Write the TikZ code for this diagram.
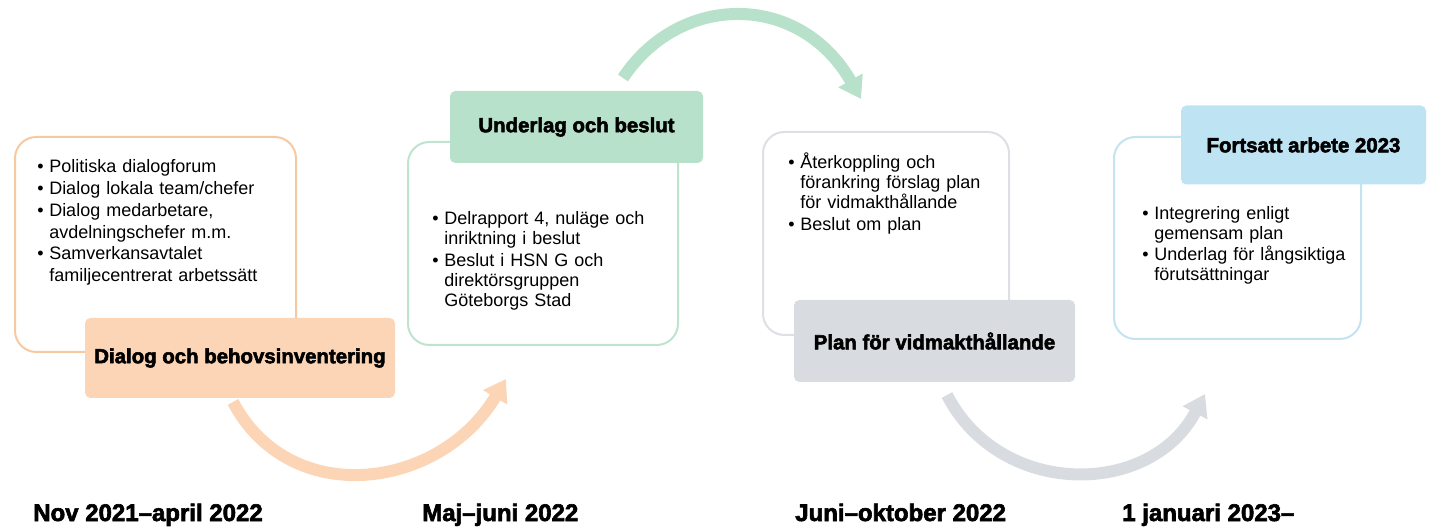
\documentclass[tikz,border=0pt]{standalone}
\usepackage{fontspec}
\setmainfont{Liberation Sans}
\newfontfamily\heavy{Liberation Sans Bold}[FakeBold=2.6]
\usetikzlibrary{arrows.meta}

\definecolor{orgline}{HTML}{F7C9A0}
\definecolor{orgfill}{HTML}{FBD5B5}
\definecolor{grnline}{HTML}{BEE3CE}
\definecolor{grnfill}{HTML}{B7E1CA}
\definecolor{grayline}{HTML}{DCDFE3}
\definecolor{grayfill}{HTML}{D8DCE1}
\definecolor{blueline}{HTML}{C3E3F0}
\definecolor{bluefill}{HTML}{BEE3F2}

\newcommand\bitem[1]{\par\hangindent=9pt\hangafter=1\noindent\makebox[9pt][l]{\textbullet}#1\par}

\begin{document}
\begin{tikzpicture}[x=0.75pt, y=-0.75pt,
  frame/.style={draw, line width=1.5pt, rounded corners=16pt, inner sep=0pt},
  title/.style={rounded corners=4pt, inner sep=0pt,
    font=\fontsize{15.3}{18}\selectfont\heavy},
  items/.style={anchor=north west, inner sep=0pt, text width=#1, align=left,
    font=\fontsize{13.5}{15}\selectfont},
  when/.style={anchor=base west, inner sep=0pt,
    font=\fontsize{18}{20}\selectfont\heavy},
  flow/.style={line width=9pt, -{Triangle[width=20pt,length=16pt]}}]
\useasboundingbox (0,0) rectangle (1436,527);

% arrows between the steps
\coordinate (a1s) at (233,402);
\coordinate (a1e) at (506,379);
\coordinate (a2s) at (623,78);
\coordinate (a2e) at (861,99);
\coordinate (a3s) at (947,395);
\coordinate (a3e) at (1205,394);
\draw[flow, orgfill]  (a1s) .. controls (290,510) and (440,490) .. (a1e);
\draw[flow, grnfill]  (a2s) .. controls (680,-8) and (800,-8) .. (a2e);
\draw[flow, grayfill] (a3s) .. controls (1000,498) and (1150,498) .. (a3e);

% frames
\node[frame, draw=orgline,  minimum width=210.75pt, minimum height=161.25pt] (box1) at (155.5,244.5) {};
\node[frame, draw=grnline,  minimum width=202.5pt,  minimum height=152.25pt] (box2) at (543,243.5) {};
\node[frame, draw=grayline, minimum width=184.5pt,  minimum height=152.25pt] (box3) at (886,233.5) {};
\node[frame, draw=blueline, minimum width=185.25pt, minimum height=151.5pt]  (box4) at (1237.5,238) {};

% titles
\node[title, fill=orgfill,  minimum width=232.5pt,  minimum height=60pt]    (t1) at (240,358) {Dialog och behovsinventering};
\node[title, fill=grnfill,  minimum width=189.75pt, minimum height=54pt]    (t2) at (576.5,127) {Underlag och beslut};
\node[title, fill=grayfill, minimum width=210.75pt, minimum height=61.5pt]  (t3) at (934.5,341) {Plan för vidmakthållande};
\node[title, fill=bluefill, minimum width=183.75pt, minimum height=59.25pt] (t4) at (1303.5,145) {Fortsatt arbete 2023};

% contents
\node[items=200pt, font=\fontsize{13.5}{16.3}\selectfont] (l1) at (37,151) {%
  \bitem{Politiska dialogforum}
  \bitem{Dialog lokala team/chefer}
  \bitem{Dialog medarbetare,\newline avdelningschefer m.m.}
  \bitem{Samverkansavtalet\newline familjecentrerat arbetssätt}};
\node[items=190pt] (l2) at (432,204) {%
  \bitem{Delrapport 4, nuläge och\newline inriktning i beslut}\vspace{1.5pt}
  \bitem{Beslut i HSN G och\newline direktörsgruppen\newline Göteborgs Stad}};
\node[items=175pt] (l3) at (788,148) {%
  \bitem{Återkoppling och\newline förankring förslag plan\newline för vidmakthållande}\vspace{1.5pt}
  \bitem{Beslut om plan}};
\node[items=175pt] (l4) at (1142,199) {%
  \bitem{Integrering enligt\newline gemensam plan}\vspace{1pt}
  \bitem{Underlag för långsiktiga\newline förutsättningar}};

% dates
\node[when] (d1) at (33,521)   {Nov 2021–april 2022};
\node[when] (d2) at (422,521)  {Maj–juni 2022};
\node[when] (d3) at (795,521)  {Juni–oktober 2022};
\node[when] (d4) at (1122,521) {1 januari 2023–};
\end{tikzpicture}
\end{document}
